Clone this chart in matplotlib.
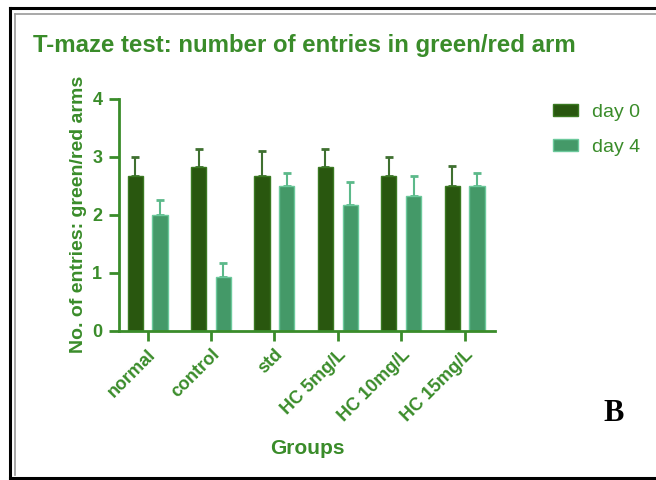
import numpy as np
import matplotlib.pyplot as plt
from matplotlib.lines import Line2D

groups = ["normal", "control", "std", "HC 5mg/L", "HC 10mg/L", "HC 15mg/L"]
day0 = [2.67, 2.83, 2.67, 2.83, 2.67, 2.50]
day0_err = [0.33, 0.31, 0.43, 0.31, 0.33, 0.34]
day4 = [2.00, 0.93, 2.50, 2.17, 2.33, 2.50]
day4_err = [0.25, 0.23, 0.22, 0.39, 0.34, 0.22]

green = "#3a8c2a"
dark = "#29570f"
dark_edge = "#3b7a22"
light = "#449968"
light_edge = "#6cc99c"

plt.rcParams["font.family"] = ["Liberation Sans", "DejaVu Sans"]

fig = plt.figure(figsize=(6.56, 4.8), dpi=100)
ax = fig.add_axes([0.1814, 0.311, 0.5732, 0.483])

x = np.arange(len(groups))
w = 0.24
off = 0.195
ax.bar(x - off, day0, w, color=dark, edgecolor=dark_edge, linewidth=1, label="day 0", zorder=2)
ax.bar(x + off, day4, w, color=light, edgecolor=light_edge, linewidth=1, label="day 4", zorder=2)
ax.errorbar(x - off, day0, yerr=[np.zeros(len(day0)), day0_err], fmt="none",
            ecolor="#3f7030", elinewidth=1.5, capsize=3, capthick=2, zorder=1)
ax.errorbar(x + off, day4, yerr=[np.zeros(len(day4)), day4_err], fmt="none",
            ecolor="#5cb98a", elinewidth=1.5, capsize=3, capthick=2, zorder=1)

ax.set_xlim(-0.45, 5.48)
ax.set_ylim(0, 4)
ax.set_yticks([0, 1, 2, 3, 4])
ax.set_xticks(x)
ax.set_xticklabels(groups, rotation=45, ha="right", rotation_mode="anchor",
                   fontsize=13, fontweight="bold", color=green)
for lab in ax.get_yticklabels():
    lab.set_fontsize(13)
    lab.set_fontweight("bold")
    lab.set_color(green)

for s in ["top", "right"]:
    ax.spines[s].set_visible(False)
for s in ["left", "bottom"]:
    ax.spines[s].set_color(green)
    ax.spines[s].set_linewidth(2)
ax.tick_params(axis="both", colors=green, width=2, length=7, direction="out")
ax.tick_params(axis="y", pad=5)
ax.tick_params(axis="x", pad=4)

ax.set_xlabel("Groups", fontsize=15, fontweight="bold", color=green, labelpad=10)
ax.set_ylabel("No. of entries: green/red arms", fontsize=14, fontweight="bold",
              color=green, labelpad=4)

fig.text(0.050, 0.906, "T-maze test: number of entries in green/red arm",
         fontsize=17.3, fontweight="bold", color=green, va="center", ha="left")

leg = ax.legend(loc="upper left", bbox_to_anchor=(1.154, 0.98), frameon=False,
                borderaxespad=0, borderpad=0,
                fontsize=14, handlelength=1.3, handleheight=0.6, labelspacing=0.95,
                handletextpad=0.72)
for t in leg.get_texts():
    t.set_color(green)

fig.text(0.935, 0.138, "B", fontsize=22, fontweight="bold", color="black",
         family="Liberation Serif", ha="center", va="center")

# frame around the panel
W, H = 656, 480
fig.add_artist(Line2D([9.5 / W, 9.5 / W], [1 - 8 / H, 1 - 478 / H], color="black", lw=2.2))
fig.add_artist(Line2D([9.5 / W, 1], [1 - 8 / H, 1 - 8 / H], color="black", lw=2.2))
fig.add_artist(Line2D([9.5 / W, 1], [1 - 478 / H, 1 - 478 / H], color="black", lw=2.2))
fig.add_artist(Line2D([15 / W, 15 / W], [1 - 14 / H, 1 - 475 / H], color="#999999", lw=1.2))
fig.add_artist(Line2D([15 / W, 1], [1 - 14 / H, 1 - 14 / H], color="#999999", lw=1.2))

fig.savefig("out.png", dpi=100)
